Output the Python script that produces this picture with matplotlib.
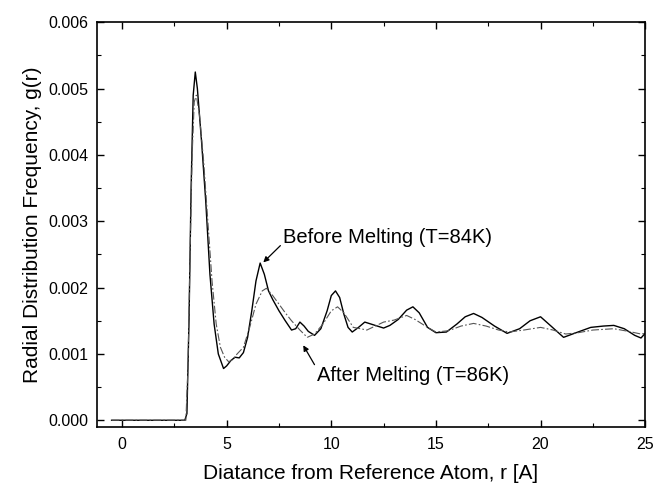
import matplotlib
matplotlib.use("Agg")
import matplotlib.pyplot as plt
import numpy as np
from matplotlib.ticker import MultipleLocator

plt.rcParams['font.family'] = ['Liberation Sans', 'DejaVu Sans']

# before melting (T=84K), g(r) in units of 1e-3
r_before = [-0.5, 3.0, 3.1, 3.2, 3.3, 3.4, 3.5, 3.6, 3.8, 4.0, 4.2, 4.4, 4.6, 4.85,
            5.0, 5.2, 5.4, 5.6, 5.8, 6.0, 6.2, 6.4, 6.6, 6.8, 7.0, 7.2, 7.5, 7.8,
            8.1, 8.3, 8.5, 8.7, 8.9, 9.2, 9.5, 9.8, 10.0, 10.2, 10.4, 10.6, 10.8,
            11.0, 11.3, 11.6, 12.0, 12.5, 12.8, 13.2, 13.6, 13.9, 14.2, 14.6, 15.0,
            15.5, 16.0, 16.4, 16.8, 17.2, 17.8, 18.4, 19.0, 19.5, 20.0, 20.5, 21.1,
            21.7, 22.4, 23.0, 23.5, 24.0, 24.5, 24.8, 25.0]
g_before = [0, 0, 0.1, 1.5, 3.5, 4.9, 5.25, 5.0, 4.2, 3.3, 2.2, 1.45, 1.0, 0.78,
            0.82, 0.9, 0.95, 0.94, 1.02, 1.25, 1.65, 2.1, 2.37, 2.2, 1.95, 1.82, 1.65, 1.5,
            1.36, 1.38, 1.48, 1.42, 1.34, 1.28, 1.38, 1.65, 1.88, 1.95, 1.85, 1.6, 1.4,
            1.33, 1.40, 1.48, 1.44, 1.39, 1.43, 1.52, 1.66, 1.71, 1.62, 1.40, 1.32,
            1.33, 1.45, 1.56, 1.61, 1.55, 1.42, 1.31, 1.38, 1.50, 1.56, 1.42, 1.25,
            1.32, 1.40, 1.42, 1.43, 1.38, 1.28, 1.24, 1.31]

# after melting (T=86K)
r_after = [-0.5, 3.05, 3.15, 3.25, 3.35, 3.45, 3.55, 3.7, 3.9, 4.1, 4.3, 4.5, 4.7,
           4.9, 5.1, 5.3, 5.5, 5.8, 6.1, 6.4, 6.7, 6.9, 7.2, 7.5, 7.8, 8.1, 8.5,
           8.85, 9.2, 9.6, 10.0, 10.3, 10.6, 11.05, 11.4, 11.7, 12.1, 12.5, 13.0,
           13.6, 14.0, 14.6, 15.0, 15.6, 16.2, 16.8, 17.4, 18.0, 18.5, 19.2, 20.0,
           20.6, 21.2, 21.8, 22.5, 23.5, 24.2, 24.8, 25.0]
g_after = [0, 0, 0.8, 2.5, 4.0, 4.8, 4.9, 4.6, 3.9, 3.0, 2.1, 1.45, 1.1,
           0.95, 0.88, 0.92, 1.0, 1.1, 1.4, 1.75, 1.95, 1.99, 1.88, 1.75, 1.62, 1.50, 1.36,
           1.25, 1.30, 1.45, 1.65, 1.71, 1.62, 1.40, 1.38, 1.36, 1.42, 1.48, 1.51,
           1.58, 1.52, 1.40, 1.33, 1.35, 1.42, 1.46, 1.42, 1.36, 1.33, 1.36, 1.40,
           1.36, 1.30, 1.32, 1.36, 1.38, 1.34, 1.30, 1.31]

fig = plt.figure(figsize=(6.55, 4.84), dpi=100)
ax = fig.add_axes([0.148, 0.118, 0.837, 0.836])

ax.plot(r_before, np.array(g_before) * 1e-3, color='black', lw=1.0)
ax.plot(r_after, np.array(g_after) * 1e-3, color='#555555', lw=0.8,
        linestyle=(0, (7, 2, 1.5, 2)))

ax.set_xlim(-1.2, 25)
ax.set_ylim(-0.0001, 0.006)
ax.xaxis.set_major_locator(MultipleLocator(5))
ax.xaxis.set_minor_locator(MultipleLocator(2.5))
ax.yaxis.set_major_locator(MultipleLocator(0.001))
ax.yaxis.set_minor_locator(MultipleLocator(0.0005))
ax.yaxis.set_major_formatter(plt.FuncFormatter(lambda v, p: f"{v:.3f}"))
ax.tick_params(which='both', direction='in', top=True, right=True, labelsize=11.5)
ax.tick_params(which='major', length=5, width=1)
ax.tick_params(which='minor', length=3, width=0.8)
ax.tick_params(axis='x', pad=7)
ax.tick_params(axis='y', pad=6)
for s in ax.spines.values():
    s.set_linewidth(1.2)

ax.set_xlabel("Diatance from Reference Atom, r [A]", fontsize=15, labelpad=9)
ax.set_ylabel("Radial Distribution Frequency, g(r)", fontsize=15, labelpad=5)

ax.annotate("Before Melting (T=84K)", xy=(6.75, 0.00238), xytext=(7.7, 0.00276),
            fontsize=14.5, va='center', ha='left',
            arrowprops=dict(arrowstyle='-|>', color='black', lw=0.9,
                            mutation_scale=8, shrinkA=0, shrinkB=0,
                            relpos=(0, 0.2)))
ax.annotate("After Melting (T=86K)", xy=(8.66, 0.00113), xytext=(9.33, 0.00068),
            fontsize=14.5, va='center', ha='left',
            arrowprops=dict(arrowstyle='-|>', color='black', lw=0.9,
                            mutation_scale=8, shrinkA=0, shrinkB=0,
                            relpos=(0, 0.8)))

fig.savefig("out.png", dpi=100)
